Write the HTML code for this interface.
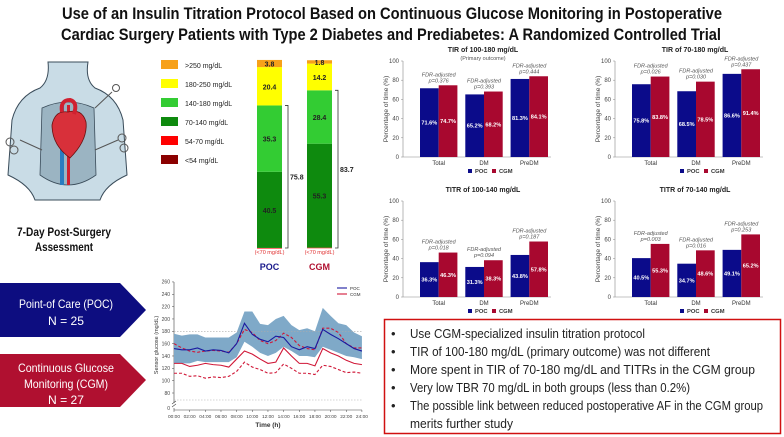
<!DOCTYPE html>
<html><head><meta charset="utf-8">
<style>
html,body{margin:0;padding:0;background:#fff;}
svg{display:block;font-family:"Liberation Sans",sans-serif;}
</style></head>
<body>
<svg id="root" width="784" height="437" viewBox="0 0 784 437" xmlns="http://www.w3.org/2000/svg">
  <g font-weight="bold" font-size="17" fill="#111" text-anchor="middle">
    <text x="392" y="19" textLength="660" lengthAdjust="spacingAndGlyphs">Use of an Insulin Titration Protocol Based on Continuous Glucose Monitoring in Postoperative</text>
    <text x="391" y="40" textLength="660" lengthAdjust="spacingAndGlyphs">Cardiac Surgery Patients with Type 2 Diabetes and Prediabetes: A Randomized Controlled Trial</text>
  </g>

  <g>
    <path d="M48,62 Q50,80 40,88 Q18,96 12,120 L8,175 Q30,185 35,200 L100,200 Q105,185 127,175 L123,120 Q117,96 95,88 Q85,80 88,62 Z" fill="#c9dce6" stroke="#3a4c5a" stroke-width="1"/>
    <path d="M42,108 Q68,96 94,108 L96,175 Q68,195 40,175 Z" fill="#9bb4c2" stroke="#3a4c5a" stroke-width="0.8"/>
    <rect x="60" y="105" width="4" height="80" fill="#2a7cc0"/>
    <rect x="67" y="105" width="3" height="80" fill="#d02030"/>
    <path d="M52,125 Q55,110 68,112 Q82,108 86,122 Q88,140 70,158 Q52,145 52,125 Z" fill="#d8303a" stroke="#6a1010" stroke-width="0.8"/>
    <path d="M62,112 Q60,100 70,100 Q78,102 74,114" fill="none" stroke="#d02030" stroke-width="4"/>
    <line x1="20" y1="140" x2="42" y2="150" stroke="#555" stroke-width="1"/><circle cx="10" cy="142" r="4" fill="none" stroke="#555"/><circle cx="14" cy="150" r="4" fill="none" stroke="#555"/>
    <line x1="95" y1="150" x2="118" y2="140" stroke="#555" stroke-width="1"/><circle cx="122" cy="138" r="4" fill="none" stroke="#555"/><circle cx="124" cy="148" r="4" fill="none" stroke="#555"/>
    <line x1="95" y1="108" x2="112" y2="92" stroke="#555" stroke-width="1"/><circle cx="116" cy="88" r="3.5" fill="none" stroke="#555"/>
  </g>
  <g font-weight="bold" font-size="11.5" fill="#111" text-anchor="middle">
    <text x="64" y="236" textLength="94" lengthAdjust="spacingAndGlyphs">7-Day Post-Surgery</text>
    <text x="64" y="251" textLength="58" lengthAdjust="spacingAndGlyphs">Assessment</text>
  </g>

  <g>
    <path d="M0,283 L120,283 L146,310 L120,337 L0,337 Z" fill="#0d0d80"/>
    <text x="66" y="308" fill="#fff" font-size="12" text-anchor="middle" textLength="94" lengthAdjust="spacingAndGlyphs">Point-of Care (POC)</text>
    <text x="66" y="325" fill="#fff" font-size="12" text-anchor="middle" textLength="36" lengthAdjust="spacingAndGlyphs">N = 25</text>
  </g>
  <g>
    <path d="M0,354 L120,354 L146,380 L120,407 L0,407 Z" fill="#b01030"/>
    <text x="66" y="372" fill="#fff" font-size="12" text-anchor="middle" textLength="96" lengthAdjust="spacingAndGlyphs">Continuous Glucose</text>
    <text x="66" y="388" fill="#fff" font-size="12" text-anchor="middle" textLength="84" lengthAdjust="spacingAndGlyphs">Monitoring (CGM)</text>
    <text x="66" y="404" fill="#fff" font-size="12" text-anchor="middle" textLength="36" lengthAdjust="spacingAndGlyphs">N = 27</text>
  </g>

  <g id="stack"></g>
  <g id="line"></g>
  <g id="bars"></g>

  <g>
    <rect x="384.5" y="319.5" width="396" height="114" fill="#fff" stroke="#d01010" stroke-width="1.5"/>
    <g font-size="13" fill="#222">
      <text x="391" y="338">•</text><text x="410" y="338" textLength="235" lengthAdjust="spacingAndGlyphs">Use CGM-specialized insulin titration protocol</text>
      <text x="391" y="356">•</text><text x="410" y="356" textLength="300" lengthAdjust="spacingAndGlyphs">TIR of 100-180 mg/dL (primary outcome) was not different</text>
      <text x="391" y="374">•</text><text x="410" y="374" textLength="345" lengthAdjust="spacingAndGlyphs">More spent in TIR of 70-180 mg/dL and TITRs in the CGM group</text>
      <text x="391" y="392">•</text><text x="410" y="392" textLength="280" lengthAdjust="spacingAndGlyphs">Very low TBR 70 mg/dL in both groups (less than 0.2%)</text>
      <text x="391" y="410">•</text><text x="410" y="410" textLength="353" lengthAdjust="spacingAndGlyphs">The possible link between reduced postoperative AF in the CGM group</text>
      <text x="410" y="428" textLength="103" lengthAdjust="spacingAndGlyphs">merits further study</text>
    </g>
  </g>
</svg>
<script>
const stackLabels = [">250 mg/dL","180-250 mg/dL","140-180 mg/dL","70-140 mg/dL","54-70 mg/dL","<54 mg/dL"];
const stackGroups = ["POC","CGM"];
const pocStack = [0.03, 40.5, 35.3, 20.4, 3.8];
const cgmStack = [0.18, 55.3, 28.4, 14.2, 1.8];
const pocTIR = 75.8;
const cgmTIR = 83.7;

const hours = [0,1,2,3,4,5,6,7,8,9,10,11,12,13,14,15,16,17,18,19,20,21,22,23,24];
const pocMean = [152,150,150,153,148,150,149,145,160,193,175,167,163,172,170,155,150,155,152,183,175,168,160,152,148];
const cgmMean = [128,128,123,125,128,126,125,122,135,148,143,135,128,130,153,140,128,128,124,152,145,140,133,128,126];
const cgmUpper = [160,153,148,146,148,149,148,146,160,183,178,165,160,165,177,170,157,152,150,185,185,178,160,153,153];
const cgmLower = [112,112,107,108,104,106,105,107,115,130,122,118,112,113,127,120,112,112,110,125,123,118,113,114,112];
const pocBandHi = [176,173,175,175,170,170,170,170,178,212,212,192,190,200,205,190,182,185,180,218,205,193,190,178,172];
const pocBandLo = [128,128,128,132,130,130,130,130,138,163,155,145,140,145,155,148,140,140,138,155,150,145,140,138,135];
const yTicks = [80,100,120,140,160,180,200,220,240,260];
const xTickLabels = ["00:00","02:00","04:00","06:00","08:00","10:00","12:00","14:00","16:00","18:00","20:00","22:00","24:00"];

const panelTitles = ["TIR of 100-180 mg/dL","TIR of 70-180 mg/dL","TITR of 100-140 mg/dL","TITR of 70-140 mg/dL"];
const barCategories = ["Total","DM","PreDM"];
const pocP1 = [71.6,65.2,81.3], cgmP1 = [74.7,68.2,84.1], pvP1 = ["0.376","0.393","0.444"];
const pocP2 = [75.8,68.5,86.6], cgmP2 = [83.8,78.5,91.4], pvP2 = ["0.026","0.030","0.437"];
const pocP3 = [36.3,31.3,43.8], cgmP3 = [46.3,38.3,57.8], pvP3 = ["0.018","0.094","0.187"];
const pocP4 = [40.5,34.7,49.1], cgmP4 = [55.3,48.6,65.2], pvP4 = ["0.003","0.016","0.253"];
const barTicks = [0,20,40,60,80,100];

const NS = "http://www.w3.org/2000/svg";
function mk(parent, tag, attrs, text){
  const e = document.createElementNS(NS, tag);
  for (const k in attrs) e.setAttribute(k, attrs[k]);
  if (text !== undefined) e.textContent = text;
  parent.appendChild(e);
  return e;
}

(function(){
  const g = document.getElementById('stack');
  const colors = ["#f7a11a","#ffff00","#33cc33","#0e8a0e","#ff0000","#8b0000"];
  stackLabels.forEach((l,i)=>{
    const r = mk(g,'rect',{x:161,y:60+i*19,width:17,height:9,fill:colors[i]});
    
    
    const t = mk(g,'text',{x:185,y:68+i*19,'font-size':7,fill:'#222'},l);
    
    
  });
  const base = 248, scale = 1.88;
  const segColors = ["#ff0000","#0e8a0e","#33cc33","#ffff00","#f7a11a"];
  const sets = [pocStack, cgmStack];
  const xs = [257, 307];
  const tirs = [pocTIR, cgmTIR];
  const nameCols = ["#1a1a8c","#b01030"];
  sets.forEach((vals, gi)=>{
    let y = base;
    const x = xs[gi];
    let tirTop = 0;
    vals.forEach((v,si)=>{
      const h = v*scale;
      y -= h;
      const r = mk(g,'rect',{x:x,y:y,width:25,height:Math.max(h,0.6),fill:segColors[si]});
      
      
      if (si===2) tirTop = y;
      const ty = si===0 ? base-1 : y+h/2+3;
      const t = mk(g,'text',{x:x+12.5,y:ty,'font-size':7,'font-weight':'bold','text-anchor':'middle',fill:'#222'}, v.toFixed(si===0?2:1));
      
      
    });
    const bx = x+28;
    const br = mk(g,'path',{d:`M${bx},${tirTop} H${bx+3} V${base} H${bx}`,fill:'none',stroke:'#333','stroke-width':0.8});
    
    
    const tt = mk(g,'text',{x:bx+5,y:(tirTop+base)/2+3,'font-size':7,'font-weight':'bold',fill:'#222'}, tirs[gi].toFixed(1));
    
    
    const lt = mk(g,'text',{x:x+12.5,y:base+6,'font-size':5.5,'text-anchor':'middle',fill:'#e03030'},"(<70 mg/dL)");
    
    
    const gt = mk(g,'text',{x:x+12.5,y:base+22,'font-size':9,'font-weight':'bold','text-anchor':'middle',fill:nameCols[gi]}, stackGroups[gi]);
    
    
  });
})();

(function(){
  const g = document.getElementById('line');
  const X = h => 174 + h*7.83;
  const Y = v => 393 - (v-80)*0.617;
  const ax = mk(g,'path',{d:`M174,282 V403 M172,404 l4,-3 M172,407 l4,-3 M174,408 V410 H362`,fill:'none',stroke:'#444','stroke-width':0.6});
  
  
  yTicks.forEach(v=>{
    mk(g,'line',{x1:172,x2:174,y1:Y(v),y2:Y(v),stroke:'#444','stroke-width':0.5});
    const t = mk(g,'text',{x:170,y:Y(v)+1.8,'font-size':5,'text-anchor':'end',fill:'#444'},String(v));
    
    
  });
  const z = mk(g,'text',{x:170,y:410,'font-size':5,'text-anchor':'end',fill:'#444'},"0");
  
  
  xTickLabels.forEach((l,i)=>{
    const x = X(i*2);
    mk(g,'line',{x1:x,x2:x,y1:410,y2:412,stroke:'#444','stroke-width':0.5});
    const t = mk(g,'text',{x:x,y:418,'font-size':4.8,'text-anchor':'middle',fill:'#444'},l);
    
    
  });
  const xt = mk(g,'text',{x:268,y:427,'font-size':6.5,'font-weight':'bold','text-anchor':'middle',fill:'#333'},"Time (h)");
  
  
  const yt = mk(g,'text',{x:0,y:0,'font-size':5.5,'text-anchor':'middle',fill:'#333',transform:'translate(158,345) rotate(-90)'},"Sensor glucose (mg/dL)");
  
  
  let d = hours.map((h,i)=>(i?'L':'M')+X(h)+','+Y(pocBandHi[i])).join(' ');
  for (let i=hours.length-1;i>=0;i--) d += ' L'+X(hours[i])+','+Y(pocBandLo[i]);
  const band = mk(g,'path',{d:d+' Z',fill:'#7fa9c8'});
  
  
  [180,70].forEach(v=>{
    const yy = v===70 ? 400 : Y(v);
    mk(g,'line',{x1:174,x2:362,y1:yy,y2:yy,stroke:'#aaa','stroke-width':0.6,'stroke-dasharray':'1.5,1.5'});
  });
  const line = (arr, col, dash, name)=>{
    const p = mk(g,'path',{d:hours.map((h,i)=>(i?'L':'M')+X(h)+','+Y(arr[i])).join(' '),fill:'none',stroke:col,'stroke-width':1.1,'stroke-dasharray':dash||'none'});
    
    
  };
  line(cgmUpper,'#d01838','3,2','cgm-upper-quartile');
  line(cgmLower,'#d01838','3,2','cgm-lower-quartile');
  line(cgmMean,'#d01838',null,'cgm-median-line');
  line(pocMean,'#1a1aa0',null,'poc-median-line');
  const lg = mk(g,'g',{});
  
  
  mk(lg,'line',{x1:337,x2:347,y1:288,y2:288,stroke:'#1a1aa0','stroke-width':1.1});
  mk(lg,'text',{x:350,y:290,'font-size':4.5,fill:'#333'},"POC");
  mk(lg,'line',{x1:337,x2:347,y1:294,y2:294,stroke:'#d01838','stroke-width':1.1});
  mk(lg,'text',{x:350,y:296,'font-size':4.5,fill:'#333'},"CGM");
})();

(function(){
  const g = document.getElementById('bars');
  const panels = [
    {ax:403, base:157, poc:pocP1, cgm:cgmP1, pv:pvP1, sub:"(Primary outcome)"},
    {ax:615, base:157, poc:pocP2, cgm:cgmP2, pv:pvP2},
    {ax:403, base:297, poc:pocP3, cgm:cgmP3, pv:pvP3},
    {ax:615, base:297, poc:pocP4, cgm:cgmP4, pv:pvP4}
  ];
  panels.forEach((P,pi)=>{
    const pg = mk(g,'g',{});
    
    
    const Y = v => P.base - v*0.96;
    const tt = mk(pg,'text',{x:P.ax+80,y:P.base-105,'font-size':7,'font-weight':'bold','text-anchor':'middle',fill:'#222'},panelTitles[pi]);
    
    
    if (P.sub){
      const st = mk(pg,'text',{x:P.ax+80,y:P.base-97,'font-size':5.5,'text-anchor':'middle',fill:'#555'},P.sub);
      
      
    }
    mk(pg,'path',{d:`M${P.ax},${Y(100)} V${P.base} H${P.ax+148}`,fill:'none',stroke:'#888','stroke-width':0.6});
    barTicks.forEach(v=>{
      mk(pg,'line',{x1:P.ax-2,x2:P.ax,y1:Y(v),y2:Y(v),stroke:'#888','stroke-width':0.5});
      const t = mk(pg,'text',{x:P.ax-4,y:Y(v)+2,'font-size':6,'text-anchor':'end',fill:'#444'},String(v));
      
      
    });
    const yl = mk(pg,'text',{x:0,y:0,'font-size':6.5,'text-anchor':'middle',fill:'#444',transform:`translate(${P.ax-15},${P.base-48}) rotate(-90)`},"Percentage of time (%)");
    
    
    barCategories.forEach((c,ci)=>{
      const x0 = P.ax + 17 + ci*45.3;
      const vals = [P.poc[ci], P.cgm[ci]];
      const cols = ["#0b0b8a","#a8082f"];
      vals.forEach((v,k)=>{
        const r = mk(pg,'rect',{x:x0+k*18.7,y:Y(v),width:18.7,height:v*0.96,fill:cols[k]});
        
        
        const lt = mk(pg,'text',{x:x0+k*18.7+9.35,y:Y(v/2)+2,'font-size':5.6,'font-weight':'bold','text-anchor':'middle',fill:'#fff'},v.toFixed(1)+'%');
        
        
      });
      const top = Y(Math.max(vals[0],vals[1]));
      const cx = x0+18.7;
      const f = mk(pg,'text',{x:cx,y:top-9,'font-size':5.5,'font-style':'italic','text-anchor':'middle',fill:'#555'},"FDR-adjusted");
      
      
      const p = mk(pg,'text',{x:cx,y:top-3,'font-size':5.5,'font-style':'italic','text-anchor':'middle',fill:'#555'},"p="+P.pv[ci]);
      
      
      const cl = mk(pg,'text',{x:cx,y:P.base+8,'font-size':6,'text-anchor':'middle',fill:'#333'},c);
      
      
    });
    const lg = mk(pg,'g',{});
    
    
    mk(lg,'rect',{x:P.ax+65,y:P.base+12,width:4,height:4,fill:'#0b0b8a'});
    mk(lg,'text',{x:P.ax+72,y:P.base+16,'font-size':5.8,'font-weight':'bold',fill:'#333'},"POC");
    mk(lg,'rect',{x:P.ax+89,y:P.base+12,width:4,height:4,fill:'#a8082f'});
    mk(lg,'text',{x:P.ax+96,y:P.base+16,'font-size':5.8,'font-weight':'bold',fill:'#333'},"CGM");
  });
})();
</script>
</body></html>
